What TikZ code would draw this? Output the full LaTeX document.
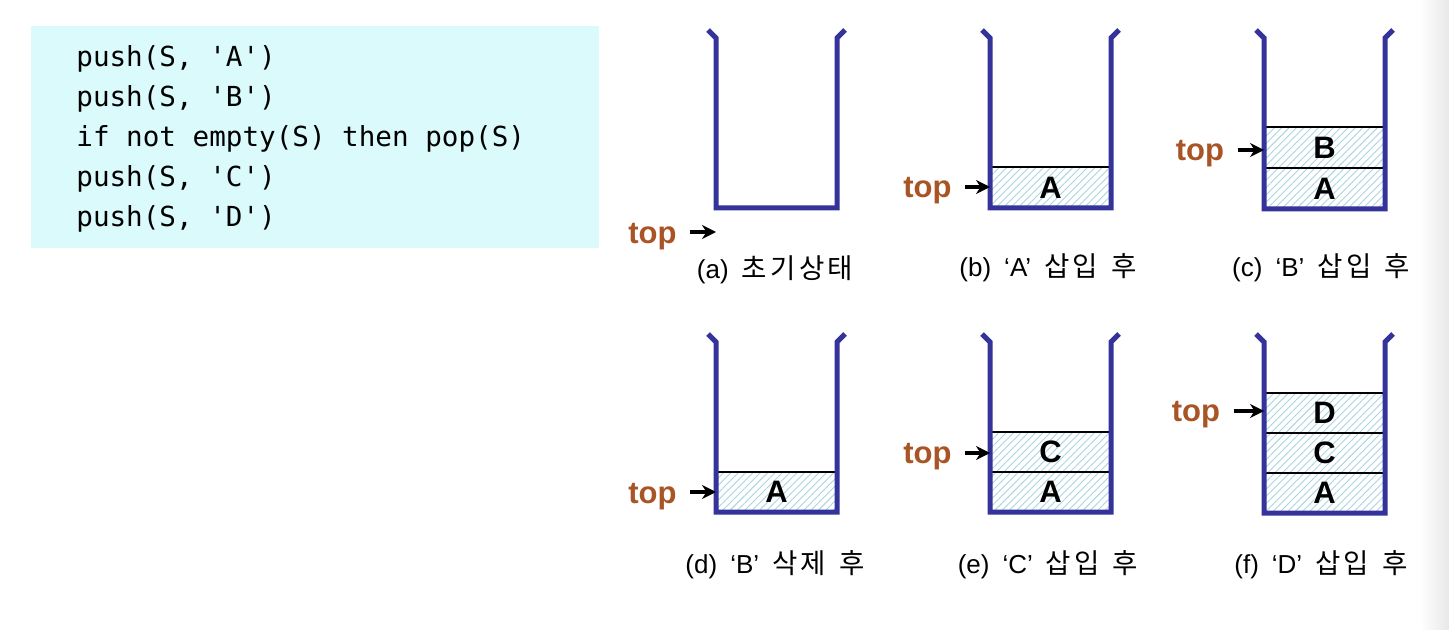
\documentclass[tikz,border=0pt]{standalone}
\usepackage{fontspec}
\usetikzlibrary{patterns.meta,arrows.meta}
\setmainfont{Liberation Sans}
\newfontfamily\codefont{DejaVu Sans Mono}
\newfontfamily\krfont{Noto Sans CJK KR}[LetterSpace=12,Scale=1.06]
\newfontfamily\capfont{Liberation Sans}
\definecolor{codebg}{RGB}{218,250,252}
\definecolor{wallblue}{RGB}{51,51,153}
\definecolor{topbrown}{RGB}{168,84,36}
\definecolor{hatchc}{RGB}{170,212,224}
\newcommand\capgap{\hspace{6.5pt}}
\tikzset{
  codeline/.style={anchor=base west,inner sep=0pt,font=\codefont\fontsize{13.8}{16}\selectfont},
  toplabel/.style={inner sep=0pt,text=topbrown,font=\bfseries\fontsize{15.5}{18}\selectfont},
  toparrow/.style={line width=1.6pt,-{Stealth[length=7pt,width=7pt]}},
  cellbox/.style={pattern={Lines[angle=45,distance=2.6pt,line width=0.45pt]},pattern color=hatchc},
  cellline/.style={line width=1.2pt,black},
  wall/.style={line width=2.5pt,wallblue,line join=miter},
  celllabel/.style={inner sep=0pt,font=\bfseries\fontsize{15.5}{18}\selectfont},
  caption/.style={inner sep=0pt,font=\capfont\fontsize{13}{15}\selectfont}
}
% #1 left x, #2 bottom y, #3 wall top y
\newcommand\stackwalls[3]{%
  \draw[wall] (#1-8,#3-8) -- (#1,#3) -- (#1,#2) -- (#1+121,#2) -- (#1+121,#3) -- (#1+129,#3-8);}
% #1 left, #2 bottom, #3 cell height, #4 number of cells
\newcommand\stackcells[4]{%
  \fill[cellbox] (#1,#2) rectangle (#1+121,#2-#3*#4);
  \foreach \k in {1,...,#4}{\draw[cellline] (#1,#2-#3*\k) -- (#1+121,#2-#3*\k);}}
\begin{document}
\begin{tikzpicture}[x=0.5pt,y=-0.5pt]
\useasboundingbox (0,0) rectangle (1449,630);
\shade[left color=white,right color=black!9] (1420,0) rectangle (1449,630);
% code box
\fill[codebg] (31,26) rectangle (599,248);
\node[codeline] (l1) at (76,67) {push(S, 'A')};
\node[codeline] (l2) at (76,107) {push(S, 'B')};
\node[codeline] (l3) at (76,147) {if not empty(S) then pop(S)};
\node[codeline] (l4) at (76,187) {push(S, 'C')};
\node[codeline] (l5) at (76,227) {push(S, 'D')};

% ---------- row 1 ----------
% (a)
\stackwalls{716}{208}{38}
\node[toplabel] (ta) at (652.5,237) {top};
\coordinate (pa) at (716,232);
\draw[toparrow] ([xshift=6.5pt]pa -| ta.east) -- (pa);
\node[caption] (capa) at (775,270) {(a)\capgap{\krfont 초기상태}};

% (b)
\stackcells{990}{208}{41}{1}
\node[celllabel] (bA) at (1050.5,188) {A};
\stackwalls{990}{208}{38}
\node[toplabel] (tb) at (927.5,191) {top};
\coordinate (pb) at (990,187);
\draw[toparrow] ([xshift=6.5pt]pb -| tb.east) -- (pb);
\node[caption] (capb) at (1048,268) {(b)\capgap‘A’\capgap{\krfont 삽입}\capgap{\krfont 후}};

% (c)
\stackcells{1264}{209}{41}{2}
\node[celllabel] (cA) at (1324.5,189) {A};
\node[celllabel] (cB) at (1324.5,148) {B};
\stackwalls{1264}{209}{38}
\node[toplabel] (tc) at (1200,154) {top};
\coordinate (pc) at (1264,150);
\draw[toparrow] ([xshift=6.5pt]pc -| tc.east) -- (pc);
\node[caption] (capc) at (1321,268) {(c)\capgap‘B’\capgap{\krfont 삽입}\capgap{\krfont 후}};

% ---------- row 2 ----------
% (d)
\stackcells{716}{512}{40}{1}
\node[celllabel] (dA) at (776.5,492) {A};
\stackwalls{716}{512}{342}
\node[toplabel] (td) at (652.5,497) {top};
\coordinate (pd) at (716,492);
\draw[toparrow] ([xshift=6.5pt]pd -| td.east) -- (pd);
\node[caption] (capd) at (775,565) {(d)\capgap‘B’\capgap{\krfont 삭제}\capgap{\krfont 후}};

% (e)
\stackcells{990}{512}{40}{2}
\node[celllabel] (eA) at (1050.5,492) {A};
\node[celllabel] (eC) at (1050.5,452) {C};
\stackwalls{990}{512}{342}
\node[toplabel] (te) at (927.5,457) {top};
\coordinate (pe) at (990,453);
\draw[toparrow] ([xshift=6.5pt]pe -| te.east) -- (pe);
\node[caption] (cape) at (1048,565) {(e)\capgap‘C’\capgap{\krfont 삽입}\capgap{\krfont 후}};

% (f)
\stackcells{1264}{513}{40}{3}
\node[celllabel] (fA) at (1324.5,493) {A};
\node[celllabel] (fC) at (1324.5,453) {C};
\node[celllabel] (fD) at (1324.5,413) {D};
\stackwalls{1264}{513}{342}
\node[toplabel] (tf) at (1196,415) {top};
\coordinate (pf) at (1264,411);
\draw[toparrow] ([xshift=6.5pt]pf -| tf.east) -- (pf);
\node[caption] (capf) at (1321,565) {(f)\capgap‘D’\capgap{\krfont 삽입}\capgap{\krfont 후}};
\end{tikzpicture}
\end{document}
